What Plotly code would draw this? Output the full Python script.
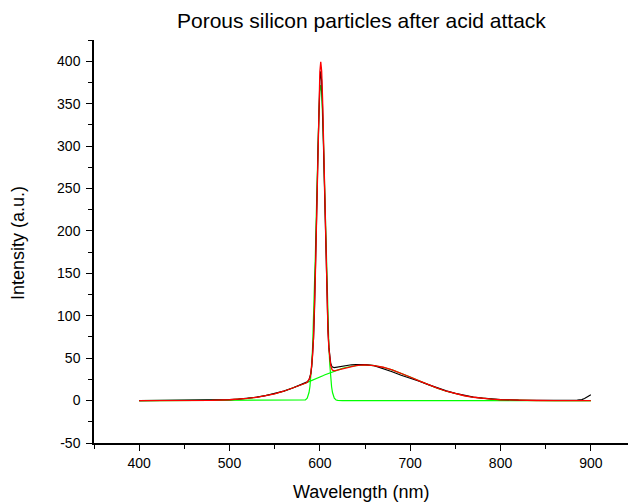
import plotly.graph_objects as go

# ---- data ----
wavelength = [400, 420, 440, 460, 480, 500, 510, 520, 530, 540, 550, 560, 570, 575, 580,
              584, 586, 588,
              589, 590, 591, 592, 593, 594, 595, 596, 597, 598, 599, 600, 601, 602, 603, 604,
              605, 606, 607, 608, 609, 610, 611, 612, 613, 614,
              616, 618, 620,
              625, 630, 635, 640, 645, 650,
              660, 670, 680, 690, 700, 710, 720, 730, 740, 750, 760, 770, 780, 790, 800,
              820, 840, 860, 880,
              885, 890, 893, 896, 900]

measured = [0.0, 0.1, 0.0, 0.2, 0.4, 1.1, 1.7, 2.7, 4.0, 5.8, 8.2, 11.2, 14.8, 16.9, 19.2,
            21.0, 22.0, 24.5,
            27.5, 32.0, 40.0, 53.0, 73.0, 103.0, 143.0, 192.0, 245.0, 298.0, 342.0, 376.0, 388.0, 377.0, 345.0, 300.0,
            248.0, 196.0, 148.0, 110.0, 82.0, 63.0, 51.0, 44.0, 41.0, 39.5,
            38.8, 39.2, 39.8,
            40.8, 41.6, 42.2, 42.5, 42.6, 42.3,
            41.2, 38.0, 34.0, 29.8, 26.5, 22.8, 18.8, 15.0, 11.5, 8.4, 6.0, 4.1, 2.8, 1.8, 1.2,
            0.6, 0.3, 0.2, 0.3,
            0.6, 1.2, 2.5, 4.5, 7.0]

fit_total = [0.0, 0.0, 0.0, 0.1, 0.35, 1.0, 1.6, 2.6, 3.9, 5.7, 8.0, 11.0, 14.6, 16.6, 18.7,
             20.4, 21.6, 24.2,
             26.8, 31.7, 39.9, 53.6, 74.7, 105.2, 146.0, 195.7, 251.4, 306.9, 354.7, 387.4, 399.2, 388.3, 356.6, 309.6,
             255.1, 200.3, 151.4, 111.6, 82.0, 61.7, 49.0, 41.6, 37.6, 35.8,
             35.0, 35.5, 36.2,
             37.9, 39.3, 40.5, 41.3, 41.8, 42.0,
             41.3, 39.3, 36.2, 32.2, 27.8, 23.2, 18.7, 14.6, 11.0, 8.0, 5.7, 3.9, 2.6, 1.6, 1.0,
             0.35, 0.1, 0.0, 0.0,
             0.0, 0.0, 0.0, 0.0, 0.0]

peak_narrow = [0.0, 0.0, 0.0, 0.0, 0.0, 0.0, 0.0, 0.0, 0.0, 0.0, 0.0, 0.0, 0.0, 0.0, 0.0,
               0.7, 2.8, 9.5,
               16.3, 26.9, 42.5, 64.1, 92.8, 128.4, 170.3, 216.2, 262.9, 306.0, 341.1, 364.0, 372.0, 364.0, 341.1, 306.0,
               262.9, 216.2, 170.3, 128.4, 92.8, 64.1, 42.5, 26.9, 16.3, 9.5,
               2.8, 0.7, 0.15,
               0.0, 0.0, 0.0, 0.0, 0.0, 0.0,
               0.0, 0.0, 0.0, 0.0, 0.0, 0.0, 0.0, 0.0, 0.0, 0.0, 0.0, 0.0, 0.0, 0.0, 0.0,
               0.0, 0.0, 0.0, 0.0,
               0.0, 0.0, 0.0, 0.0, 0.0]

peak_broad = [0.0, 0.0, 0.0, 0.1, 0.35, 1.0, 1.6, 2.6, 3.9, 5.7, 8.0, 11.0, 14.6, 16.6, 18.7,
              20.4, 21.3, 22.3,
              22.7, 23.2, 23.6, 24.1, 24.5, 25.0, 25.5, 25.9, 26.4, 26.9, 27.3, 27.8, 28.2, 28.7, 29.2, 29.6,
              30.1, 30.5, 30.9, 31.4, 31.8, 32.2, 32.7, 33.1, 33.5, 33.9,
              34.7, 35.5, 36.2,
              37.9, 39.3, 40.5, 41.3, 41.8, 42.0,
              41.3, 39.3, 36.2, 32.2, 27.8, 23.2, 18.7, 14.6, 11.0, 8.0, 5.7, 3.9, 2.6, 1.6, 1.0,
              0.35, 0.1, 0.0, 0.0,
              0.0, 0.0, 0.0, 0.0, 0.0]

x_ticks = [400, 500, 600, 700, 800, 900]
x_tick_labels = ["400", "500", "600", "700", "800", "900"]
y_ticks = [-50, 0, 50, 100, 150, 200, 250, 300, 350, 400]
y_tick_labels = ["-50", "0", "50", "100", "150", "200", "250", "300", "350", "400"]

title_text = "Porous silicon particles after acid attack"
x_title = "Wavelength (nm)"
y_title = "Intensity (a.u.)"

FONT = "Liberation Sans, Arial, sans-serif"

fig = go.Figure()
for yvals, color, w in [(peak_narrow, "#00FF00", 1.2),
                        (peak_broad, "#00FF00", 1.2),
                        (measured, "#000000", 1.2),
                        (fit_total, "#FF0000", 1.3)]:
    fig.add_trace(go.Scatter(x=wavelength, y=yvals, mode="lines",
                             line=dict(color=color, width=w),
                             showlegend=False, hoverinfo="skip"))

axis_common = dict(showline=True, linecolor="black", linewidth=1.5,
                   ticks="outside", ticklen=6, tickwidth=1.2, tickcolor="black",
                   showgrid=False, zeroline=False,
                   tickfont=dict(family=FONT, size=14, color="black"))

fig.update_xaxes(range=[350, 941.1], tickmode="array",
                 tickvals=x_ticks, ticktext=x_tick_labels,
                 minor=dict(tick0=0, dtick=50, ticks="outside", ticklen=4,
                            tickwidth=1.2, tickcolor="black", showgrid=False),
                 **axis_common)
fig.update_yaxes(range=[-50, 425], tickmode="array",
                 tickvals=y_ticks, ticktext=y_tick_labels,
                 ticklabelstandoff=3,
                 minor=dict(tick0=0, dtick=25, ticks="outside", ticklen=4,
                            tickwidth=1.2, tickcolor="black", showgrid=False),
                 **axis_common)

fig.update_layout(
    width=628, height=503,
    margin=dict(l=94, r=0, t=40, b=60, pad=0),
    paper_bgcolor="white", plot_bgcolor="white",
    showlegend=False,
    annotations=[
        dict(text=title_text, xref="paper", yref="paper", x=0.5, y=1.0496,
             xanchor="center", yanchor="middle", showarrow=False,
             font=dict(family=FONT, size=21, color="black")),
        dict(text=x_title, xref="paper", yref="paper", x=0.5, y=-0.1216,
             xanchor="center", yanchor="middle", showarrow=False,
             font=dict(family=FONT, size=18, color="black")),
        dict(text=y_title, xref="paper", yref="paper", x=-0.1423, y=0.496,
             xanchor="center", yanchor="middle", showarrow=False, textangle=-90,
             font=dict(family=FONT, size=18, color="black")),
    ],
)

fig.write_html("out.html")
